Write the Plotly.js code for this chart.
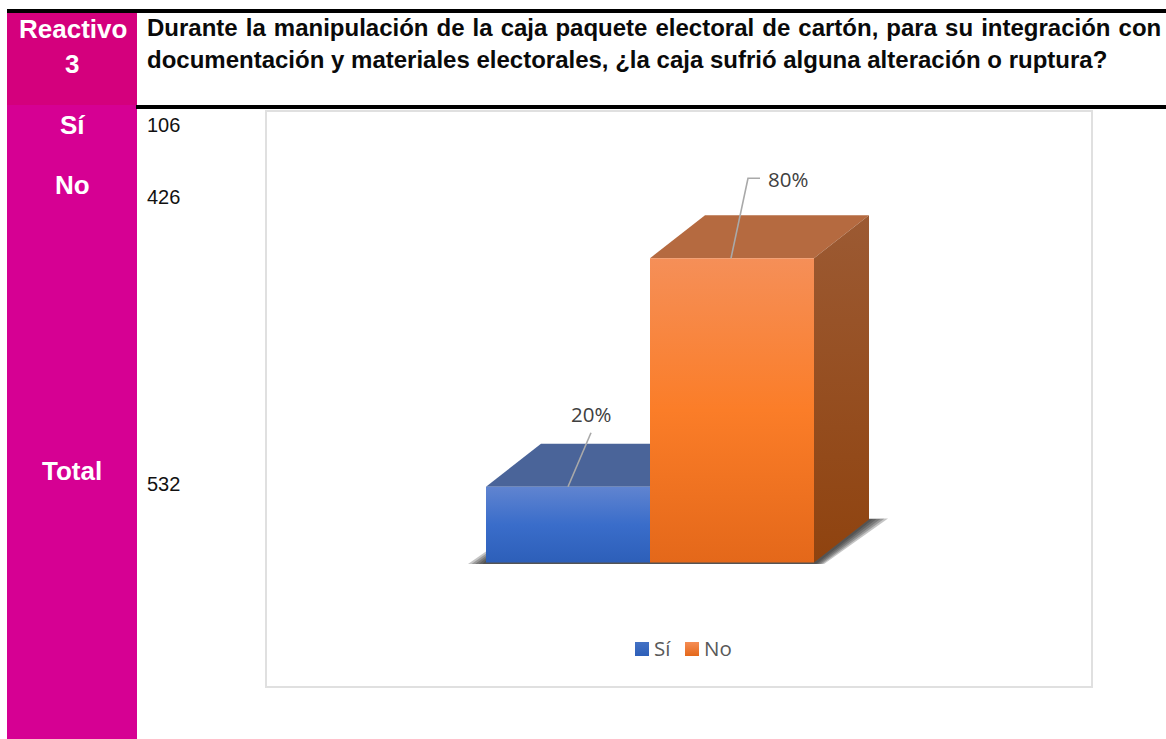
<!DOCTYPE html>
<html><head><meta charset="utf-8">
<script src="https://cdn.plot.ly/plotly-3.0.1.min.js"></script>
<style>html,body{margin:0;padding:0;background:#fff;overflow:hidden}#c{width:1166px;height:739px}</style>
</head><body><div id="c"></div>
<script>
var categories = ['Sí', 'No'];
var counts = [106, 426];
var totalLabel = 'Total';
var total = 532;
var headerLabel = ['Reactivo', '3'];
var titleLines = [
  'Durante la manipulación de la caja paquete electoral de cartón, para su integración con',
  'documentación y materiales electorales, ¿la caja sufrió alguna alteración o ruptura?'
];

var W = 1166, H = 739;
var FL = 266, FR = 1092, FT = 111, FB = 687;      // chart frame, px
var X0 = 486, BARW = 164, Y0 = 562.5, PPU = 3.8;   // x=0 / bar width / y=0 / px per percent
var DX = 55 / BARW, DY = 43 / PPU;                 // 3-D depth in axis units
function px(x) { return x / W; }
function py(y) { return 1 - y / H; }
function ux(p) { return p / BARW; }                // px offset -> x units
function uy(p) { return -p / PPU; }                // px offset (down +) -> y units

var pct = counts.map(function (c) { return c / total * 100; });

var styles = [
  { front: [[0, '#2d5fb9'], [0.5, '#3a6dca'], [1, '#6084d0']], top: '#4a6499', swatch: '#4472c4', grad: '#2d5fb9' },
  { front: [[0, '#e4681a'], [0.5, '#fb7d28'], [1, '#f58f58']], top: '#b56a40', swatch: '#f58d55', grad: '#e4681a' }
];

var traces = [];
function poly(xs, ys, o) {
  var t = { x: xs, y: ys, type: 'scatter', mode: 'none', fill: 'toself', showlegend: false, hoverinfo: 'skip', fillcolor: o.color };
  if (o.gradient) t.fillgradient = { type: 'vertical', colorscale: o.gradient };
  traces.push(t);
}

// soft floor shadow: nested translucent outlines around the footprint
var xEnd = categories.length;
[1, 0.8, 0.6, 0.4, 0.2].forEach(function (s) {
  poly([ux(-18 * s), 0, xEnd + DX, xEnd + DX + ux(19 * s), xEnd + ux(10 * s), ux(-18 * s)],
       [uy(1.5), uy(-11 * s), DY + uy(-1 * s), DY + uy(-1 * s), uy(1.5), uy(1.5)],
       { color: 'rgba(40,40,40,0.27)' });
});

categories.forEach(function (name, i) {
  var v = pct[i], s = styles[i];
  poly([i + DX, i + 1 + DX, i + 1, i, i + DX], [v + DY, v + DY, v, v, v + DY], { color: s.top });
  poly([i + 1, i + 1 + DX, i + 1 + DX, i + 1, i + 1], [0, DY, v + DY, v, 0], { color: 'rgba(0,0,0,0)', gradient: [[0, '#8f430f'], [1, '#9c5a33']] });
  poly([i, i + 1, i + 1, i, i], [0, 0, v, v, 0], { color: s.swatch, gradient: s.front });
});

// leader lines, anchored on the top face of each bar
var leaderColor = '#a9a9a9';
traces.push({ x: [ux(82), ux(105)], y: [pct[0], pct[0] + uy(-54)], type: 'scatter', mode: 'lines',
  line: { color: leaderColor, width: 1.6 }, showlegend: false, hoverinfo: 'skip' });
traces.push({ x: [1 + ux(81), 1 + ux(98), 1 + ux(110)], y: [pct[1], pct[1] + uy(-80), pct[1] + uy(-80)], type: 'scatter', mode: 'lines',
  line: { color: leaderColor, width: 1.6 }, showlegend: false, hoverinfo: 'skip' });

var anns = [];

// legend entries: swatch + label, one per category
var LEG_X = 642, LEG_STEP = 50, LEG_Y = 649;
categories.forEach(function (name, i) {
  var lx = (LEG_X + i * LEG_STEP - X0) / BARW, ly = (Y0 - LEG_Y) / PPU;
  traces.push({ x: [lx], y: [ly], name: name, type: 'scatter', mode: 'markers', showlegend: false, hoverinfo: 'skip', cliponaxis: false,
    marker: { symbol: 'square', size: 14, color: styles[i].swatch, line: { width: 0 }, gradient: { type: 'vertical', color: styles[i].grad } } });
  anns.push({ text: name, xref: 'x', yref: 'y', x: lx + ux(10.5), y: ly + uy(-1), xanchor: 'left', yanchor: 'middle', showarrow: false, borderpad: 0,
    font: { family: 'Open Sans, Noto Sans, sans-serif', size: 20.5, color: '#595959' } });
});

function txt(text, x, y, size, bold, anchor, color) {
  anns.push({ text: bold ? '<b>' + text + '</b>' : text, xref: 'paper', yref: 'paper', x: px(x), y: py(y), xanchor: anchor, yanchor: 'middle',
    showarrow: false, align: anchor, borderpad: 0, font: { family: 'Liberation Sans, Arial, sans-serif', size: size, color: color } });
}
var sideSize = 26, valSize = 20;
txt(headerLabel[0], 73, 29, sideSize, true, 'center', '#fff');
txt(headerLabel[1], 72, 64, sideSize, true, 'center', '#fff');
txt(categories[0], 72, 125, sideSize, true, 'center', '#fff');
txt(categories[1], 72, 185, sideSize, true, 'center', '#fff');
txt(totalLabel, 72, 471, sideSize, true, 'center', '#fff');
txt(String(counts[0]), 146, 125, valSize, false, 'left', '#111');
txt(String(counts[1]), 146, 197, valSize, false, 'left', '#111');
txt(String(total), 146, 484, valSize, false, 'left', '#111');
txt(titleLines[0], 146, 28, 24, true, 'left', '#0a0a0a');
txt(titleLines[1], 146, 59, 24, true, 'left', '#0a0a0a');

// percentage labels
[[ux(105), uy(-73)], [1 + ux(138), uy(-79)]].forEach(function (o, i) {
  anns.push({ text: Math.round(pct[i]) + '%', xref: 'x', yref: 'y', x: o[0], y: pct[i] + o[1], xanchor: 'center', yanchor: 'middle', showarrow: false,
    font: { family: 'Open Sans, Noto Sans, sans-serif', size: 20.5, color: '#404040' } });
});

function rect(x0, y0, x1, y1, fill, line) {
  return { type: 'rect', xref: 'paper', yref: 'paper', x0: px(x0), x1: px(x1), y0: py(y0), y1: py(y1), fillcolor: fill,
    line: line ? { color: line, width: 2 } : { width: 0 }, layer: 'below' };
}
var shapes = [
  rect(7, 105, 137, 739, '#d60093'),
  rect(7, 13, 137, 105, '#d4007d'),
  rect(7, 9, 1166, 13, '#000'),
  rect(136, 105, 1166, 109, '#000'),
  rect(FL, FT, FR, FB, '#fff', '#e0e0e0')
];

var layout = {
  width: W, height: H, margin: { l: 0, r: 0, t: 0, b: 0, pad: 0 },
  paper_bgcolor: '#fff', plot_bgcolor: 'rgba(0,0,0,0)',
  xaxis: { domain: [px(FL), px(FR)], range: [(FL - X0) / BARW, (FR - X0) / BARW], visible: false, fixedrange: true },
  yaxis: { domain: [py(FB), py(FT)], range: [(Y0 - FB) / PPU, (Y0 - FT) / PPU], visible: false, fixedrange: true },
  showlegend: false,
  shapes: shapes, annotations: anns, hovermode: false
};
Plotly.newPlot('c', traces, layout, { displayModeBar: false, staticPlot: true }).then(function () {
  // the first title line is justified in the source
  document.querySelectorAll('.annotation-text').forEach(function (el) {
    if (el.textContent === titleLines[0]) el.style.wordSpacing = '1.38px';
  });
});
</script></body></html>
